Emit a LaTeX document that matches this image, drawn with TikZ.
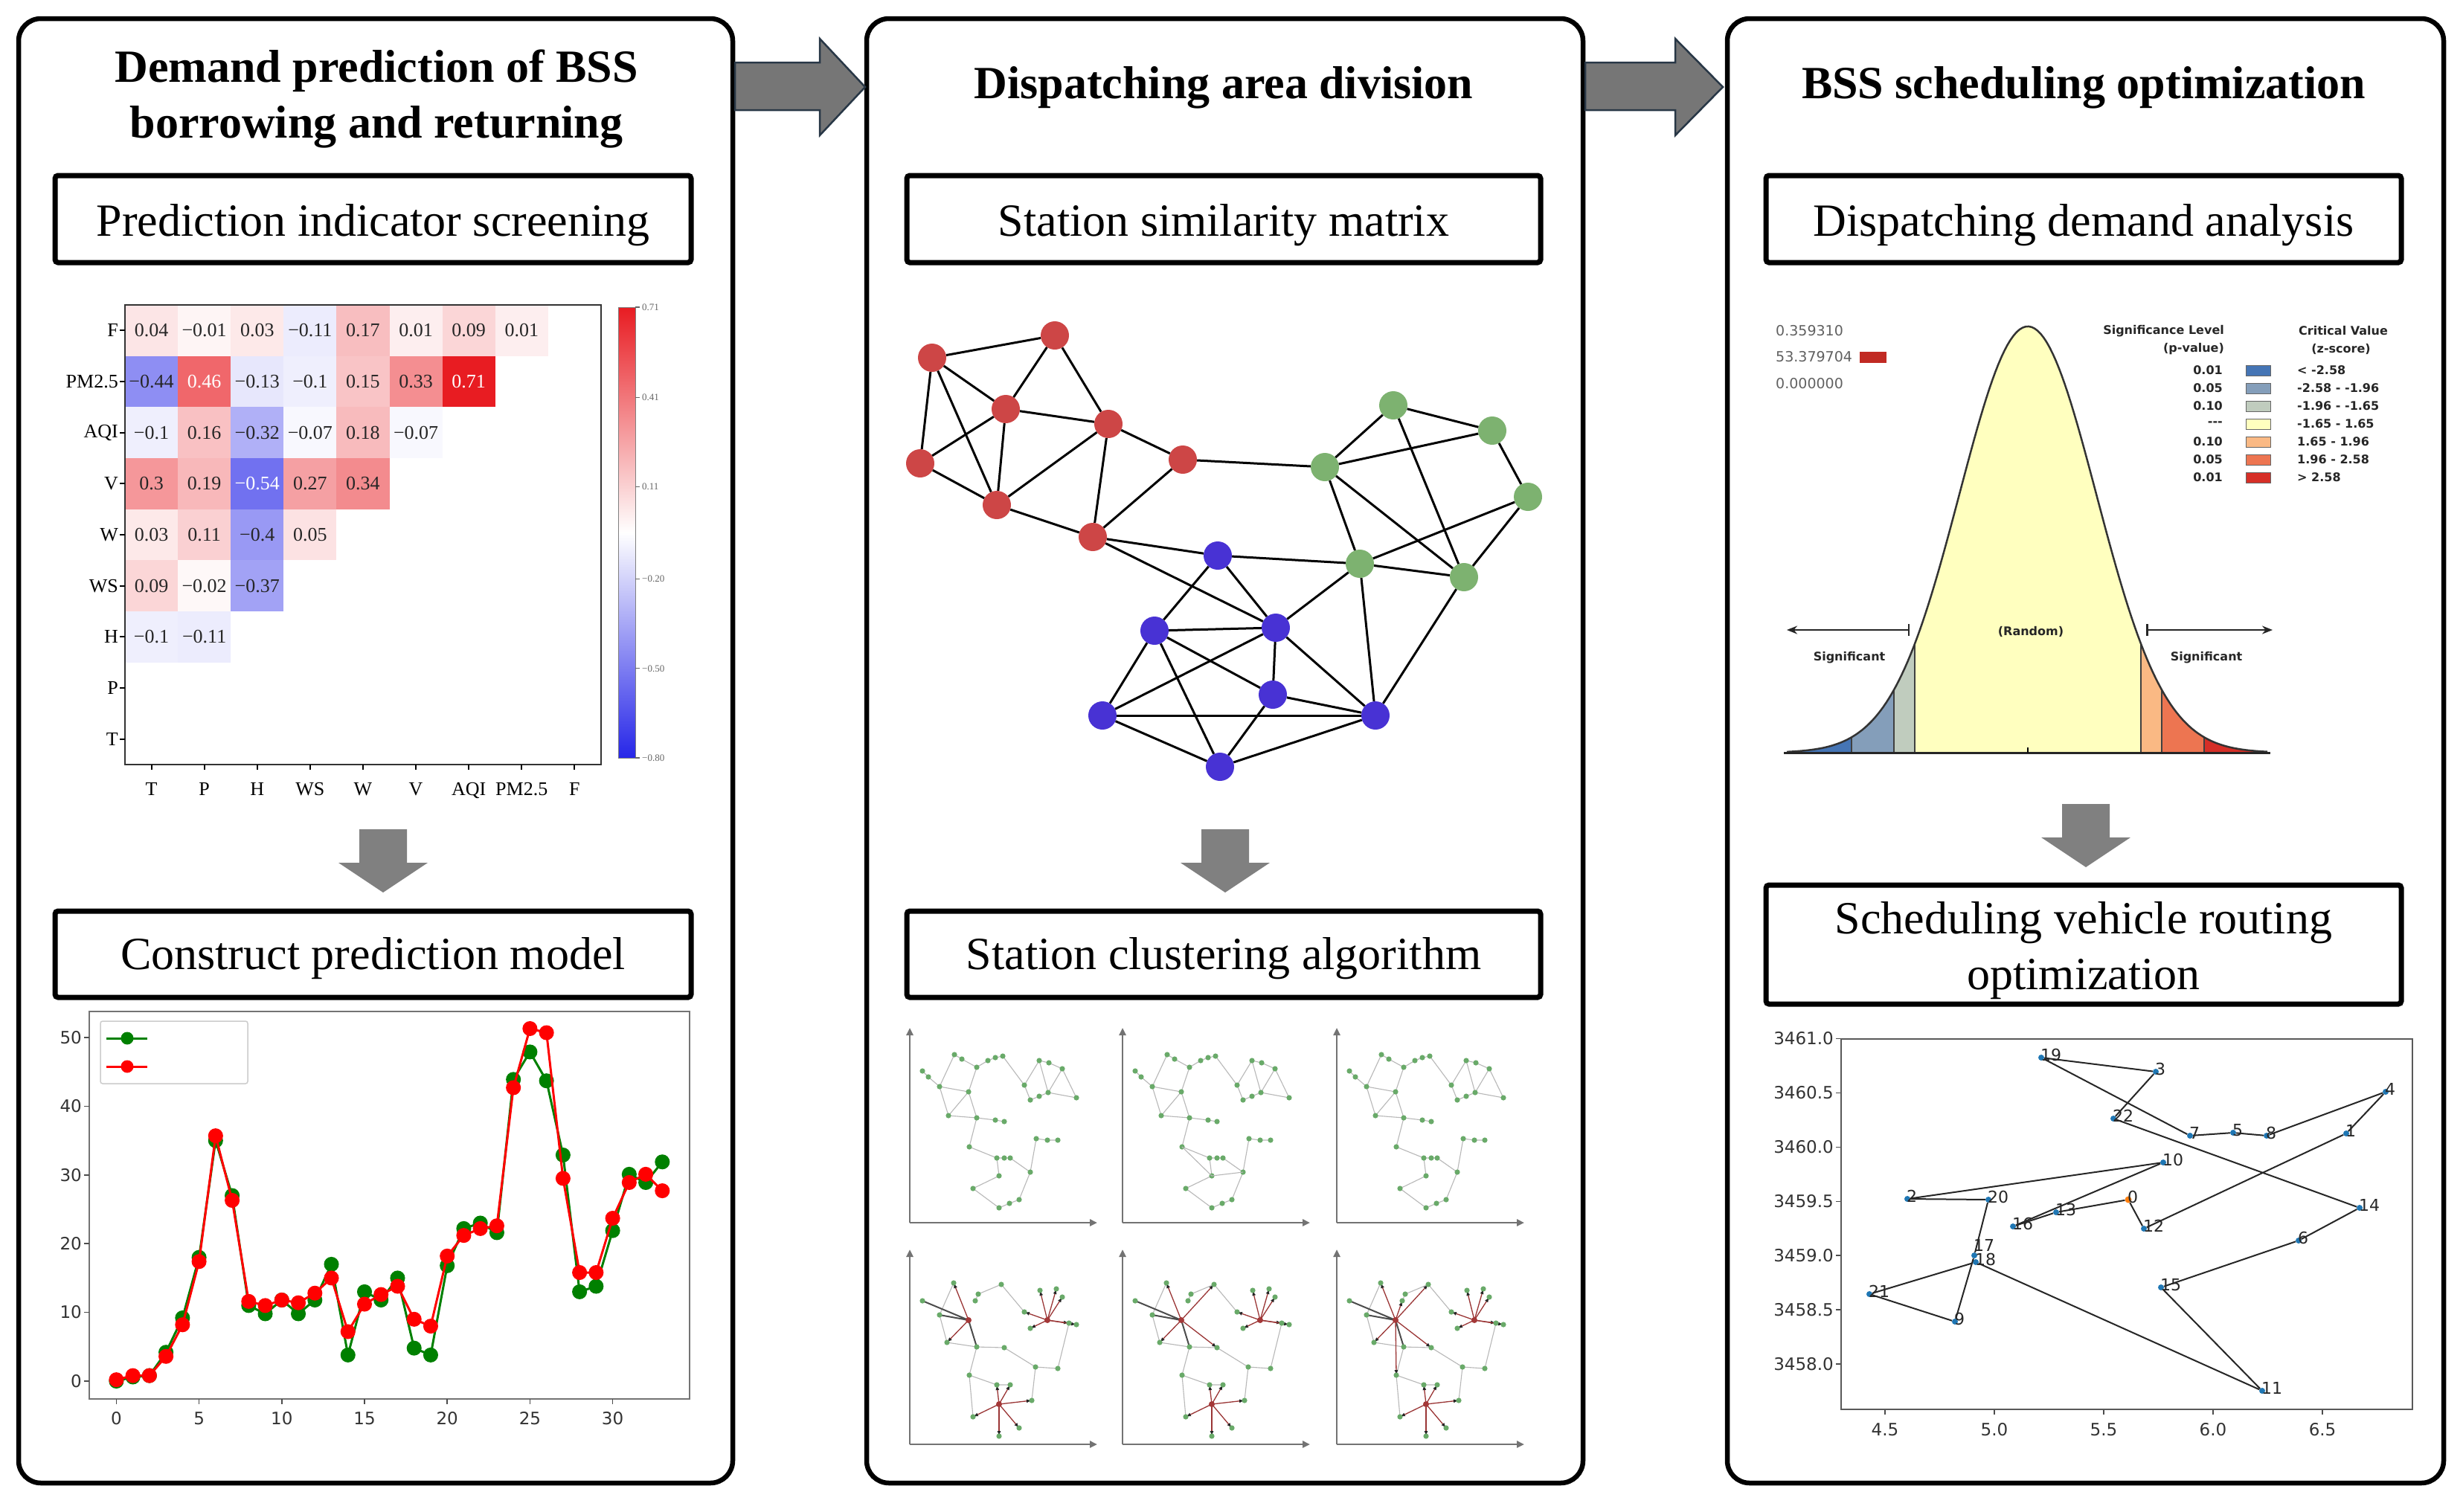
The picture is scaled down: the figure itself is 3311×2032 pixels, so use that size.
\documentclass[tikz,border=0pt]{standalone}
\usepackage{fontspec}
\setmainfont{Liberation Serif}
\newfontfamily\dvs{DejaVu Sans}
\usetikzlibrary{arrows.meta}
\definecolor{arrgray}{RGB}{118,118,118}
\definecolor{arrline}{RGB}{40,55,70}
\definecolor{darrgray}{RGB}{128,128,128}
\definecolor{hmred}{RGB}{232,28,34}
\definecolor{hmblue}{RGB}{38,38,232}
\definecolor{rnode}{RGB}{205,70,70}
\definecolor{gnode}{RGB}{125,178,112}
\definecolor{bnode}{RGB}{72,50,212}
\definecolor{hs1}{RGB}{69,117,181}
\definecolor{hs2}{RGB}{132,158,186}
\definecolor{hs3}{RGB}{192,204,190}
\definecolor{hs4}{RGB}{255,255,191}
\definecolor{hs5}{RGB}{250,185,132}
\definecolor{hs6}{RGB}{237,117,81}
\definecolor{hs7}{RGB}{214,47,39}
\definecolor{plgreen}{RGB}{0,128,0}
\definecolor{plred}{RGB}{255,0,0}
\definecolor{rblue}{RGB}{31,119,180}
\definecolor{rorange}{RGB}{255,127,14}
\definecolor{sdotc}{RGB}{105,170,105}

\newcommand{\topnet}{%
\path (17,204) coordinate (sa) (25,196) coordinate (sa2) (40,183) coordinate (sb)
 (60,226) coordinate (sc) (70,220) coordinate (sc2) (90,209) coordinate (sd)
 (105,218) coordinate (se) (115,222) coordinate (se2) (125,224) coordinate (se3)
 (79,176) coordinate (sf) (52,144) coordinate (sg) (90,141) coordinate (sh)
 (115,138) coordinate (sh2) (127,136) coordinate (sh3) (80,102) coordinate (si)
 (117,87) coordinate (sj) (127,87) coordinate (sj2) (135,87) coordinate (sj3)
 (120,63) coordinate (sk) (162,68) coordinate (sl) (85,46) coordinate (sm)
 (120,20) coordinate (sn) (134,26) coordinate (sn2) (147,31) coordinate (sn3)
 (170,113) coordinate (so) (185,111) coordinate (so2) (199,111) coordinate (so3)
 (174,218) coordinate (sp) (187,215) coordinate (sp2) (205,207) coordinate (sp3)
 (154,185) coordinate (sq) (162,165) coordinate (sr) (174,170) coordinate (sr2)
 (186,175) coordinate (ss) (224,168) coordinate (st);
\draw[sedge] (sa)--(sa2)--(sb) (sb)--(sc) (sc)--(sc2)--(sd)--(se)--(se2)--(se3)
 (sd)--(sf) (sb)--(sf) (sb)--(sg) (sg)--(sf) (sf)--(sh) (sg)--(sh) (sh)--(sh2)--(sh3)
 (sh)--(si) (si)--(sj)--(sj2)--(sj3) (sj)--(sk) (sk)--(sm) (sm)--(sn) (sn)--(sn2)--(sn3)
 (sn3)--(sl) (sl)--(sj3) (sl)--(so) (so)--(so2)--(so3) (se3)--(sq) (sq)--(sr) (sq)--(sp)
 (sp)--(sp2)--(sp3) (sp)--(ss) (sp3)--(ss) (sp3)--(st) (ss)--(st) (sr)--(sr2)--(ss);
\foreach \n in {sa,sa2,sb,sc,sc2,sd,se,se2,se3,sf,sg,sh,sh2,sh3,si,sj,sj2,sj3,sk,sl,sm,sn,sn2,sn3,so,so2,so3,sp,sp2,sp3,sq,sr,sr2,ss,st}
  \fill[sdotc] (\n) circle (3.6);
}
\newcommand{\botbase}{%
\path (17,193) coordinate (ba) (40,174) coordinate (bb) (59,217) coordinate (bc)
 (88,193) coordinate (bd) (92,202) coordinate (bd2) (123,215) coordinate (be)
 (50,137) coordinate (bg) (90,131) coordinate (bh) (127,130) coordinate (bh3)
 (80,93) coordinate (bi) (117,80) coordinate (bj) (135,80) coordinate (bj3)
 (85,37) coordinate (bm) (120,11) coordinate (bn) (147,22) coordinate (bn3)
 (164,59) coordinate (bl) (169,104) coordinate (bo) (199,102) coordinate (bo3)
 (175,207) coordinate (bp) (197,209) coordinate (bp2) (205,198) coordinate (bp3)
 (154,178) coordinate (bq) (162,156) coordinate (br) (214,163) coordinate (bt)
 (224,161) coordinate (bt2) (79,167) coordinate (H1) (185,167) coordinate (H2)
 (120,54) coordinate (H3);
\draw[sedge] (bc)--(bb) (bd)--(bd2)--(be) (bg)--(bh) (bh)--(bh3) (bh)--(bi) (bi)--(bj)
 (bj)--(bj3) (bo)--(bo3) (be)--(bq) (bo3)--(bt) (bo)--(bl) (bi)--(bm) (bh3)--(bo) (bg)--(bb);
\foreach \h/\t in {H2/bp,H2/bp2,H2/bp3,H2/bq,H2/br,H2/bt,H2/bt2,H3/bj,H3/bj3,H3/bl,H3/bm,H3/bn,H3/bn3}
  \draw[spoke] (\h) -- (\t);
\draw[hubdark] (H1) -- (ba) (H1) -- (bb) (H1) -- (bh);
}
\newcommand{\botdots}{%
\foreach \n in {ba,bb,bc,bd,bd2,be,bg,bh,bh3,bi,bj,bj3,bm,bn,bn3,bl,bo,bo3,bp,bp2,bp3,bq,br,bt,bt2}
  \fill[sdotc] (\n) circle (3.6);
\foreach \n in {H1,H2,H3} \fill[rnode!80!black] (\n) circle (4);
}
\newcommand{\smallax}{%
\draw[sax] (0,0) -- (0,262);
\draw[sax] (0,0) -- (252,0);
}

\begin{document}
\begin{tikzpicture}[x=1pt,y=-1pt,
  panel/.style={draw=black, line width=6.5pt, rounded corners=30pt, inner sep=0pt},
  subbox/.style={draw=black, line width=7pt, rounded corners=4pt, inner sep=0pt},
  ttl/.style={font=\fontsize{62}{75}\selectfont\bfseries, inner sep=0pt, anchor=base},
  sub/.style={font=\fontsize{62}{75}\selectfont, inner sep=0pt, anchor=base},
  bigarrow/.style={fill=arrgray, draw=arrline, line width=2.5pt, line join=miter},
  downarrow/.style={fill=darrgray},
  cellt/.style={font=\fontsize{26}{30}\selectfont, inner sep=0pt},
  axlab/.style={font=\fontsize{26}{30}\selectfont, inner sep=0pt},
  cblab/.style={font=\fontsize{13}{15}\selectfont, inner sep=0pt, text=black!60, anchor=west},
  plab/.style={font=\dvs\fontsize{23}{26}\selectfont, inner sep=0pt, text=black!80},
  gn/.style={circle, fill=#1, minimum size=38pt, inner sep=0pt},
  gedge/.style={line width=3pt, black},
  sedge/.style={line width=1.1pt, black!28},
  spoke/.style={line width=1.3pt, rnode!75!black, -{Latex[length=7pt,width=5pt,color=black!85]}},
  hubdark/.style={line width=2pt, black!70},
  sax/.style={draw=black!55, line width=2.5pt, -{Triangle[length=10pt,width=9pt]}},
  lgt/.style={font=\dvs\fontsize{19}{22}\selectfont, inner sep=0pt, text=black!62},
  lgb/.style={font=\dvs\bfseries\fontsize{16}{18}\selectfont, inner sep=0pt, text=black!85},
  rpt/.style={circle, fill=rblue, minimum size=8pt, inner sep=0pt},
  rlab/.style={font=\dvs\fontsize{22}{24}\selectfont, inner sep=1pt, anchor=south west, text=black!85},
  redge/.style={line width=2pt, black!85}
]
\fill[white] (0,0) rectangle (3311,2032);
\useasboundingbox (0,0) rectangle (3311,2032);

% ---------- panels ----------
\node[panel, minimum width=960pt, minimum height=1969pt] (P1) at (505,1009.5) {};
\node[panel, minimum width=963pt, minimum height=1969pt] (P2) at (1646.5,1009.5) {};
\node[panel, minimum width=963pt, minimum height=1969pt] (P3) at (2803.5,1009.5) {};

% big arrows
\draw[bigarrow] (988,84) -- (1102,84) -- (1102,52) -- (1163,117) -- (1102,182) -- (1102,148) -- (988,148) -- cycle;
\draw[bigarrow] (2131,84) -- (2252,84) -- (2252,52) -- (2316,117) -- (2252,182) -- (2252,148) -- (2131,148) -- cycle;

% titles
\node[ttl] (T1a) at (506,110) {Demand prediction of BSS};
\node[ttl] (T1b) at (506,185) {borrowing and returning};
\node[ttl] (T2) at (1645,132) {Dispatching area division};
\node[ttl] (T3) at (2801,132) {BSS scheduling optimization};

% sub boxes
\node[subbox, minimum width=855pt, minimum height=117pt] (B1a) at (501.5,294.5) {};
\node[sub] (S1a) at (501.5,317) {Prediction indicator screening};
\node[subbox, minimum width=852pt, minimum height=117pt] (B2a) at (1645,294.5) {};
\node[sub] (S2a) at (1645,317) {Station similarity matrix};
\node[subbox, minimum width=854pt, minimum height=117pt] (B3a) at (2801,294.5) {};
\node[sub] (S3a) at (2801,317) {Dispatching demand analysis};
\node[subbox, minimum width=855pt, minimum height=116pt] (B1b) at (501.5,1283) {};
\node[sub] (S1b) at (501.5,1303) {Construct prediction model};
\node[subbox, minimum width=852pt, minimum height=116pt] (B2b) at (1645,1283) {};
\node[sub] (S2b) at (1645,1303) {Station clustering algorithm};
\node[subbox, minimum width=854pt, minimum height=160pt] (B3b) at (2801,1270) {};
\node[sub] (S3b1) at (2801,1255) {Scheduling vehicle routing};
\node[sub] (S3b2) at (2801,1330) {optimization};

% down arrows
\fill[downarrow] (483,1115) -- (547,1115) -- (547,1160) -- (575,1160) -- (515,1200) -- (455,1160) -- (483,1160) -- cycle;
\fill[downarrow] (1615,1115) -- (1679,1115) -- (1679,1160) -- (1707,1160) -- (1647,1200) -- (1587,1160) -- (1615,1160) -- cycle;
\fill[downarrow] (2772,1081) -- (2836,1081) -- (2836,1126) -- (2864,1126) -- (2804,1166) -- (2744,1126) -- (2772,1126) -- cycle;

% ---------- heatmap ----------
\foreach \r/\c/\v/\t in {0/0/0.04/0.04, 0/1/-0.01/−0.01, 0/2/0.03/0.03, 0/3/-0.11/−0.11, 0/4/0.17/0.17, 0/5/0.01/0.01, 0/6/0.09/0.09, 0/7/0.01/0.01,
  1/0/-0.44/−0.44, 1/1/0.46/0.46, 1/2/-0.13/−0.13, 1/3/-0.1/−0.1, 1/4/0.15/0.15, 1/5/0.33/0.33, 1/6/0.71/0.71,
  2/0/-0.1/−0.1, 2/1/0.16/0.16, 2/2/-0.32/−0.32, 2/3/-0.07/−0.07, 2/4/0.18/0.18, 2/5/-0.07/−0.07,
  3/0/0.3/0.3, 3/1/0.19/0.19, 3/2/-0.54/−0.54, 3/3/0.27/0.27, 3/4/0.34/0.34,
  4/0/0.03/0.03, 4/1/0.11/0.11, 4/2/-0.4/−0.4, 4/3/0.05/0.05,
  5/0/0.09/0.09, 5/1/-0.02/−0.02, 5/2/-0.37/−0.37,
  6/0/-0.1/−0.1, 6/1/-0.11/−0.11} {
  \pgfmathsetmacro{\p}{(\v+0.045)/0.755*100}
  \pgfmathsetmacro{\ap}{abs(\p)}
  \ifdim \p pt>0pt \def\cc{hmred}\else\def\cc{hmblue}\fi
  \ifdim \ap pt>60pt \def\tc{white}\else\def\tc{black!85}\fi
  \pgfmathsetmacro{\xa}{168+\c*71.11}
  \pgfmathsetmacro{\ya}{410+\r*68.67}
  \fill[\cc!\ap!white] (\xa,\ya) rectangle ++(71.11,68.67);
  \node[cellt, text=\tc] (hm-\r-\c) at (\xa+35.55,\ya+34.33) {\t};
}
\draw[line width=2.5pt, black!80] (168,410) rectangle (808,1028);
\foreach \lab [count=\i from 0] in {F,PM2.5,AQI,V,W,WS,H,P,T} {
  \draw[line width=2pt] (161,{444.3+\i*68.67}) -- (168,{444.3+\i*68.67});
  \node[axlab, anchor=east] (hr-\i) at (159,{444.3+\i*68.67}) {\lab};
}
\foreach \lab [count=\i from 0] in {T,P,H,WS,W,V,AQI,PM2.5,F} {
  \draw[line width=2pt] ({203.5+\i*71.11},1028) -- ({203.5+\i*71.11},1035);
  \node[axlab, anchor=base] (hc-\i) at ({203.5+\i*71.11},1069) {\lab};
}
% colorbar
\shade[top color=hmred, bottom color=white] (831,413) rectangle (854,716);
\shade[top color=white, bottom color=hmblue] (831,716) rectangle (854,1019);
\draw[line width=1pt, black!50] (831,413) rectangle (854,1019);
\foreach \yy/\tt [count=\i] in {413/0.71, 534.2/0.41, 654.6/0.11, 778.4/−0.20, 898.8/−0.50, 1019/−0.80} {
  \draw[line width=1.2pt, black!60] (854,\yy) -- (860,\yy);
  \node[cblab] (cb-\i) at (863,\yy) {\tt};
}

% ---------- line chart ----------
\draw[line width=2pt, black!55] (120,1360) rectangle (927,1881);
\foreach \v [count=\i] in {0,10,20,30,40,50} {
  \draw[line width=1.5pt, black!70] (113,{1857-\v*9.24}) -- (120,{1857-\v*9.24});
  \node[plab, anchor=east] (ly-\i) at (110,{1857-\v*9.24}) {\v};
}
\foreach \u [count=\i] in {0,5,10,15,20,25,30} {
  \draw[line width=1.5pt, black!70] ({156.4+\u*22.24},1881) -- ({156.4+\u*22.24},1888);
  \node[plab, anchor=base] (lx-\i) at ({156.4+\u*22.24},1915) {\u};
}
\begin{scope}[x=22.24pt, y=9.24pt, shift={(156.4pt,-1857pt)}]
\draw[plgreen, line width=3pt, mark=*, mark size=8.5pt, mark options={fill=plgreen, draw=plgreen}]
 plot coordinates {(0,0) (1,0.6) (2,0.8) (3,4.2) (4,9.2) (5,18) (6,35) (7,27) (8,11) (9,9.8) (10,11.8) (11,9.8) (12,11.8) (13,17) (14,3.8) (15,13) (16,11.8) (17,15) (18,4.8) (19,3.8) (20,16.8) (21,22.2) (22,23) (23,21.6) (24,43.9) (25,47.9) (26,43.7) (27,32.9) (28,13) (29,13.8) (30,21.9) (31,30.1) (32,28.9) (33,31.9)};
\draw[plred, line width=3pt, mark=*, mark size=8.5pt, mark options={fill=plred, draw=plred}]
 plot coordinates {(0,0.2) (1,0.8) (2,0.8) (3,3.6) (4,8.2) (5,17.4) (6,35.7) (7,26.3) (8,11.6) (9,11) (10,11.8) (11,11.4) (12,12.8) (13,15) (14,7.2) (15,11.2) (16,12.6) (17,13.8) (18,9) (19,8) (20,18.2) (21,21.2) (22,22.2) (23,22.6) (24,42.7) (25,51.3) (26,50.7) (27,29.5) (28,15.8) (29,15.8) (30,23.7) (31,28.9) (32,30.1) (33,27.7)};
\end{scope}
\draw[line width=1.5pt, black!20, fill=white, rounded corners=3pt] (135,1373) rectangle (333,1457);
\draw[plgreen, line width=3pt] (143,1396) -- (198,1396);
\fill[plgreen] (171,1396) circle (8.5);
\draw[plred, line width=3pt] (143,1434) -- (198,1434);
\fill[plred] (171,1434) circle (8.5);

% ---------- graph (panel 2) ----------
\node[gn=rnode] (R1) at (1253,481) {};
\node[gn=rnode] (R2) at (1418,451) {};
\node[gn=rnode] (R3) at (1352,550) {};
\node[gn=rnode] (R4) at (1237,623) {};
\node[gn=rnode] (R5) at (1490,570) {};
\node[gn=rnode] (R6) at (1590,618) {};
\node[gn=rnode] (R7) at (1340,679) {};
\node[gn=rnode] (R8) at (1469,722) {};
\node[gn=gnode] (G1) at (1873,545) {};
\node[gn=gnode] (G2) at (2006,579) {};
\node[gn=gnode] (G3) at (1781,628) {};
\node[gn=gnode] (G4) at (2054,668) {};
\node[gn=gnode] (G5) at (1828,758) {};
\node[gn=gnode] (G6) at (1968,776) {};
\node[gn=bnode] (Q1) at (1637,747) {};
\node[gn=bnode] (Q2) at (1552,848) {};
\node[gn=bnode] (Q3) at (1715,844) {};
\node[gn=bnode] (Q4) at (1711,934) {};
\node[gn=bnode] (Q5) at (1482,962) {};
\node[gn=bnode] (Q6) at (1849,962) {};
\node[gn=bnode] (Q7) at (1640,1031) {};
\foreach \u/\w in {R1/R2,R1/R3,R1/R4,R1/R7,R2/R3,R2/R5,R3/R4,R3/R5,R3/R7,R4/R7,R5/R7,R5/R6,R5/R8,R6/R8,R7/R8,R6/G3,R8/Q1,R8/Q3,
  G1/G2,G1/G3,G1/G6,G2/G3,G2/G4,G3/G5,G3/G6,G4/G5,G4/G6,G5/G6,G5/Q1,G5/Q3,G5/Q6,G6/Q6,
  Q1/Q2,Q1/Q3,Q2/Q3,Q2/Q4,Q2/Q5,Q2/Q7,Q3/Q4,Q3/Q5,Q3/Q6,Q4/Q6,Q4/Q7,Q5/Q6,Q5/Q7,Q7/Q6}
  \draw[gedge] (\u) -- (\w);

% ---------- small cluster plots ----------
\begin{scope}[shift={(1223,1644)}, yscale=-1] \smallax \topnet \end{scope}
\begin{scope}[shift={(1509,1644)}, yscale=-1] \smallax \topnet \draw[sedge] (sk)--(sl) (si)--(sk); \end{scope}
\begin{scope}[shift={(1797,1644)}, yscale=-1] \smallax \topnet \end{scope}
\begin{scope}[shift={(1223,1942)}, yscale=-1] \smallax \botbase
  \draw[spoke] (H1)--(bc); \draw[spoke] (H1)--(bg); \botdots \end{scope}
\begin{scope}[shift={(1509,1942)}, yscale=-1] \smallax \botbase
  \draw[spoke] (H1)--(bc); \draw[spoke] (H1)--(be); \draw[spoke] (H1)--(bg); \draw[spoke] (H1)--(bh3); \botdots \end{scope}
\begin{scope}[shift={(1797,1942)}, yscale=-1] \smallax \botbase
  \draw[spoke] (H1)--(bc); \draw[spoke] (H1)--(be); \draw[spoke] (H1)--(bg); \draw[spoke] (H1)--(bh3); \draw[spoke] (H1)--(bd); \draw[spoke] (H1)--(bi); \botdots \end{scope}

% ---------- normal distribution ----------
\foreach \a/\b/\col in {2402/2489/hs1, 2489/2546/hs2, 2546/2574/hs3, 2574/2878/hs4, 2878/2906/hs5, 2906/2963/hs6, 2963/3048/hs7} {
  \fill[\col] (\a,1012) -- plot[domain=\a:\b, samples=40] (\x,{1012-573*exp(-0.5*((\x-2726)/92)*((\x-2726)/92))}) -- (\b,1012) -- cycle;
}
\foreach \a in {2489,2546,2574,2878,2906,2963}
  \draw[line width=2pt, black!75] (\a,1012) -- (\a,{1012-573*exp(-0.5*((\a-2726)/92)*((\a-2726)/92))});
\draw[line width=2.5pt, black!80] plot[domain=2402:3048, samples=160] (\x,{1012-573*exp(-0.5*((\x-2726)/92)*((\x-2726)/92))});
\draw[line width=3pt, black!85] (2398,1012) -- (3052,1012);
\draw[line width=1.5pt] (2726,1012) -- (2726,1005);
\draw[line width=2.5pt, black!85, {Bar[width=16pt]}-{Stealth[length=14pt,width=11pt]}] (2567,847) -- (2402,847);
\draw[line width=2.5pt, black!85, {Bar[width=16pt]}-{Stealth[length=14pt,width=11pt]}] (2885,847) -- (3055,847);
\node[lgb] (rnd) at (2730,849) {(Random)};
\node[lgb] (sigl) at (2486,884) {Significant};
\node[lgb] (sigr) at (2966,884) {Significant};
\node[lgt, anchor=west] (v1) at (2387,445) {0.359310};
\node[lgt, anchor=west] (v2) at (2387,480) {53.379704};
\fill[hs7!90!black] (2500,473) rectangle (2536,488);
\node[lgt, anchor=west] (v3) at (2387,516) {0.000000};
\node[lgb, anchor=east] (sl1) at (2990,445) {Significance Level};
\node[lgb, anchor=east] (sl2) at (2990,469) {(p-value)};
\node[lgb] (cv1) at (3150,445) {Critical Value};
\node[lgb] (cv2) at (3147,469) {(z-score)};
\foreach \yy/\pv/\zv/\col [count=\i] in {498/0.01/< -2.58/hs1, 522/0.05/-2.58 - -1.96/hs2, 546/0.10/-1.96 - -1.65/hs3, 570/---/-1.65 - 1.65/hs4, 594/0.10/1.65 - 1.96/hs5, 618/0.05/1.96 - 2.58/hs6, 642/0.01/> 2.58/hs7} {
  \node[lgb, anchor=east] (pv-\i) at (2988,\yy) {\pv};
  \draw[fill=\col, draw=black!60, line width=1pt] (3019,\yy-7) rectangle (3052,\yy+7);
  \node[lgb, anchor=west] (zv-\i) at (3088,\yy) {\zv};
}

% ---------- route plot ----------
\foreach \v/\yy [count=\i] in {3461.0/1396.6, 3460.5/1469.5, 3460.0/1542.4, 3459.5/1615.3, 3459.0/1688.2, 3458.5/1761.1, 3458.0/1834} {
  \draw[line width=1.5pt, black!70] (2468,\yy) -- (2475,\yy);
  \node[plab, anchor=east] (ry-\i) at (2465,\yy) {\v};
}
\foreach \v/\xx [count=\i] in {4.5/2534, 5.0/2681, 5.5/2828, 6.0/2975, 6.5/3122} {
  \draw[line width=1.5pt, black!70] (\xx,1895) -- (\xx,1902);
  \node[plab, anchor=base] (rx-\i) at (\xx,1930) {\v};
}
\foreach \n/\xx/\yy in {1/3154/1524, 2/2564/1612, 3/2898/1441, 4/3207/1468, 5/3002/1523, 6/3090/1668, 7/2944/1527, 8/3047/1527, 9/2628/1777, 10/2908/1563, 11/3041/1870, 12/2882/1652, 13/2764/1630, 14/3172/1624, 15/2905/1731, 16/2706/1649, 17/2654/1688, 18/2656/1697, 19/2744/1422, 20/2673/1613, 21/2513/1740, 22/2841/1504} {
  \node[rpt] (r\n) at (\xx,\yy) {};
}
\node[circle, fill=rorange, minimum size=9pt, inner sep=0pt] (r0) at (2861,1613) {};
\foreach \u/\w in {r0/r12, r12/r1, r1/r4, r4/r8, r8/r5, r5/r7, r7/r19, r19/r3, r3/r22, r22/r14, r14/r6, r6/r15, r15/r11, r11/r18, r18/r21, r21/r9, r9/r17, r17/r20, r20/r2, r2/r10, r10/r16, r16/r13, r13/r0}
  \draw[redge] (\u) -- (\w);
\foreach \n in {0,1,...,16,18,19,20,21,22}
  \node[rlab] (rl\n) at ([xshift=-2pt,yshift=-6pt]r\n.center) {\n};
\node[rlab] (rl17) at ([xshift=-2pt,yshift=4pt]r17.center) {17};
\draw[line width=2pt, black!65] (2475,1397) rectangle (3243,1895);
\end{tikzpicture}
\end{document}
